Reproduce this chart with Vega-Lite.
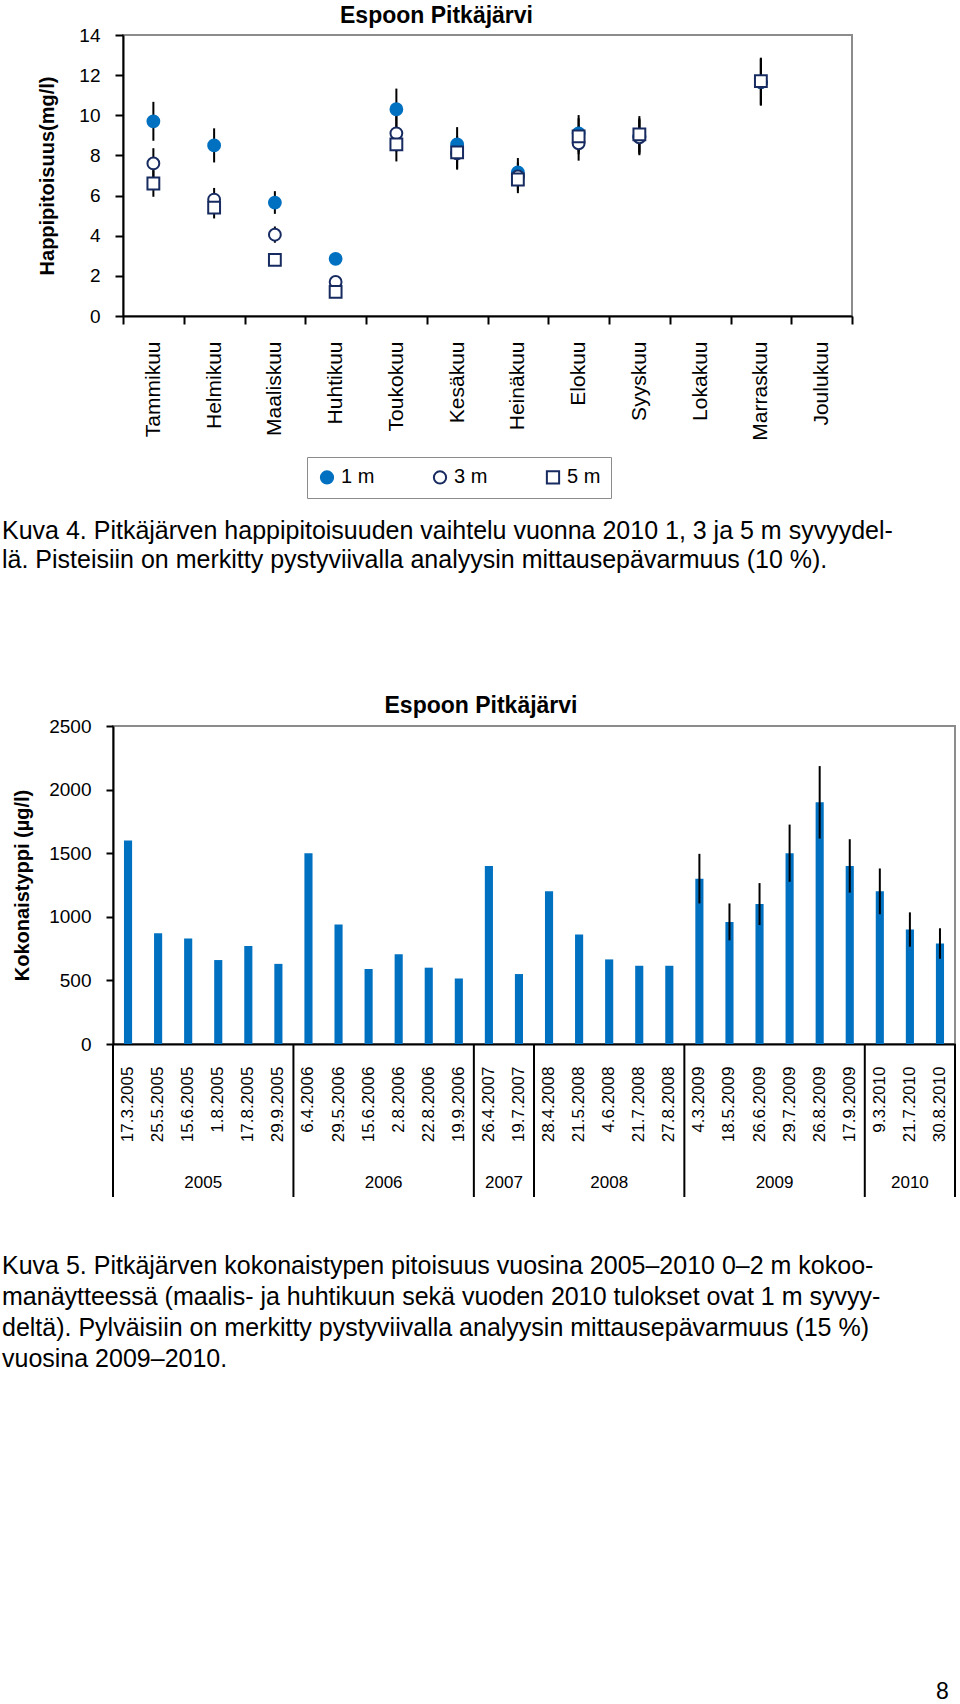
{
  "$schema": "https://vega.github.io/schema/vega-lite/v6.json",
  "background": "white",
  "padding": {"left": 2, "top": 4, "right": 0, "bottom": 0},
  "spacing": 0,
  "resolve": {"scale": {"shape": "independent", "fill": "independent", "stroke": "independent"}, "legend": {"shape": "independent", "fill": "independent", "stroke": "independent"}},
  "config": {
    "font": "Liberation Sans",
    "view": {"stroke": "#8c8c8c", "strokeWidth": 2},
    "axis": {"domainColor": "black", "domainWidth": 2, "tickColor": "black", "tickWidth": 2, "labelColor": "black", "titleColor": "black", "grid": false, "labelFont": "Liberation Sans", "titleFont": "Liberation Sans"},
    "title": {"font": "Liberation Sans", "color": "black"}
  },
  "title": {"text": "8", "orient": "bottom", "anchor": "start", "frame": "group", "fontSize": 23, "fontWeight": "normal", "offset": 301, "dx": 934},
  "vconcat": [
    {
      "spacing": 0,
      "resolve": {"scale": {"shape": "independent", "fill": "independent", "stroke": "independent"}, "legend": {"shape": "independent", "fill": "independent", "stroke": "independent"}},
      "hconcat": [
        {"width": 33, "height": 1, "view": {"stroke": null}, "data": {"values": []}, "mark": {"type": "point", "opacity": 0}},
        {
          "width": 729,
          "height": 281,
          "title": {"text": "Espoon Pitkäjärvi", "fontSize": 23, "fontWeight": "bold", "anchor": "middle", "frame": "group", "dx": -51, "offset": -2},
          "data": {"values": [
            {"month": "Tammikuu", "depth": "1 m", "value": 9.7, "lo": 8.73, "hi": 10.67},
            {"month": "Helmikuu", "depth": "1 m", "value": 8.5, "lo": 7.65, "hi": 9.35},
            {"month": "Maaliskuu", "depth": "1 m", "value": 5.65, "lo": 5.09, "hi": 6.22},
            {"month": "Huhtikuu", "depth": "1 m", "value": 2.85, "lo": 2.57, "hi": 3.14},
            {"month": "Toukokuu", "depth": "1 m", "value": 10.3, "lo": 9.27, "hi": 11.33},
            {"month": "Kesäkuu", "depth": "1 m", "value": 8.55, "lo": 7.7, "hi": 9.41},
            {"month": "Heinäkuu", "depth": "1 m", "value": 7.15, "lo": 6.44, "hi": 7.87},
            {"month": "Elokuu", "depth": "1 m", "value": 9.1, "lo": 8.19, "hi": 10.01},
            {"month": "Syyskuu", "depth": "1 m", "value": 8.95, "lo": 8.06, "hi": 9.85},
            {"month": "Marraskuu", "depth": "1 m", "value": 11.65, "lo": 10.49, "hi": 12.82},
            {"month": "Tammikuu", "depth": "3 m", "value": 7.6, "lo": 6.84, "hi": 8.36},
            {"month": "Helmikuu", "depth": "3 m", "value": 5.8, "lo": 5.22, "hi": 6.38},
            {"month": "Maaliskuu", "depth": "3 m", "value": 4.05, "lo": 3.65, "hi": 4.46},
            {"month": "Huhtikuu", "depth": "3 m", "value": 1.7, "lo": 1.53, "hi": 1.87},
            {"month": "Toukokuu", "depth": "3 m", "value": 9.1, "lo": 8.19, "hi": 10.01},
            {"month": "Kesäkuu", "depth": "3 m", "value": 8.1, "lo": 7.29, "hi": 8.91},
            {"month": "Heinäkuu", "depth": "3 m", "value": 6.95, "lo": 6.26, "hi": 7.65},
            {"month": "Elokuu", "depth": "3 m", "value": 8.6, "lo": 7.74, "hi": 9.46},
            {"month": "Syyskuu", "depth": "3 m", "value": 8.9, "lo": 8.01, "hi": 9.79},
            {"month": "Marraskuu", "depth": "3 m", "value": 11.65, "lo": 10.49, "hi": 12.82},
            {"month": "Tammikuu", "depth": "5 m", "value": 6.6, "lo": 5.94, "hi": 7.26},
            {"month": "Helmikuu", "depth": "5 m", "value": 5.4, "lo": 4.86, "hi": 5.94},
            {"month": "Maaliskuu", "depth": "5 m", "value": 2.8, "lo": 2.52, "hi": 3.08},
            {"month": "Huhtikuu", "depth": "5 m", "value": 1.2, "lo": 1.08, "hi": 1.32},
            {"month": "Toukokuu", "depth": "5 m", "value": 8.55, "lo": 7.7, "hi": 9.41},
            {"month": "Kesäkuu", "depth": "5 m", "value": 8.15, "lo": 7.34, "hi": 8.97},
            {"month": "Heinäkuu", "depth": "5 m", "value": 6.8, "lo": 6.12, "hi": 7.48},
            {"month": "Elokuu", "depth": "5 m", "value": 8.95, "lo": 8.06, "hi": 9.85},
            {"month": "Syyskuu", "depth": "5 m", "value": 9.05, "lo": 8.15, "hi": 9.96},
            {"month": "Marraskuu", "depth": "5 m", "value": 11.7, "lo": 10.53, "hi": 12.87}
          ]},
          "encoding": {
            "x": {"field": "month", "type": "nominal",
              "scale": {"domain": ["Tammikuu", "Helmikuu", "Maaliskuu", "Huhtikuu", "Toukokuu", "Kesäkuu", "Heinäkuu", "Elokuu", "Syyskuu", "Lokakuu", "Marraskuu", "Joulukuu"], "paddingInner": 0, "paddingOuter": 0},
              "axis": {"title": null, "labelAngle": -90, "labelFontSize": 21, "labelPadding": 17, "tickSize": 8, "tickBand": "extent"}}
          },
          "layer": [
            {
              "mark": {"type": "rule", "color": "black", "strokeWidth": 2},
              "encoding": {
                "y": {"field": "lo", "type": "quantitative", "scale": {"domain": [0, 14], "nice": false},
                  "axis": {"title": "Happipitoisuus(mg/l)", "titleFontSize": 20, "titleFontWeight": "bold", "titleX": -66, "titleY": 140.5, "titleAngle": -90, "titleBaseline": "bottom", "titleAlign": "center", "values": [0, 2, 4, 6, 8, 10, 12, 14], "labelFontSize": 19, "labelPadding": 15, "tickSize": 8}},
                "y2": {"field": "hi"}
              }
            },
            {
              "mark": {"type": "point", "opacity": 1, "strokeWidth": 2, "size": 140},
              "encoding": {
                "y": {"field": "value", "type": "quantitative",
                  "axis": {"title": "Happipitoisuus(mg/l)", "titleFontSize": 20, "titleFontWeight": "bold", "titleX": -66, "titleY": 140.5, "titleAngle": -90, "titleBaseline": "bottom", "titleAlign": "center", "values": [0, 2, 4, 6, 8, 10, 12, 14], "labelFontSize": 19, "labelPadding": 15, "tickSize": 8}},
                "shape": {"field": "depth", "type": "nominal", "scale": {"domain": ["1 m", "3 m", "5 m"], "range": ["circle", "circle", "square"]},
                  "legend": {"title": null, "orient": "none", "legendX": 184, "legendY": 422, "direction": "horizontal", "strokeColor": "#8c8c8c", "padding": 10, "symbolSize": 150, "symbolStrokeWidth": 2, "labelFontSize": 20, "labelOffset": 4, "columnPadding": 54, "labelColor": "black"}},
                "fill": {"field": "depth", "type": "nominal", "scale": {"domain": ["1 m", "3 m", "5 m"], "range": ["#0070C0", "white", "white"]},
                  "legend": {"title": null, "orient": "none", "legendX": 184, "legendY": 422, "direction": "horizontal", "strokeColor": "#8c8c8c", "padding": 10, "symbolSize": 150, "symbolStrokeWidth": 2, "labelFontSize": 20, "labelOffset": 4, "columnPadding": 54, "labelColor": "black"}},
                "stroke": {"field": "depth", "type": "nominal", "scale": {"domain": ["1 m", "3 m", "5 m"], "range": ["#0070C0", "#172b61", "#172b61"]},
                  "legend": {"title": null, "orient": "none", "legendX": 184, "legendY": 422, "direction": "horizontal", "strokeColor": "#8c8c8c", "padding": 10, "symbolSize": 150, "symbolStrokeWidth": 2, "labelFontSize": 20, "labelOffset": 4, "columnPadding": 54, "labelColor": "black"}}
              }
            }
          ]
        }
      ]
    },
    {
      "width": 950,
      "height": 194,
      "view": {"stroke": null},
      "data": {"values": [
        {"line": 1, "text": "Kuva 4. Pitkäjärven happipitoisuuden vaihtelu vuonna 2010 1, 3 ja 5 m syvyydel-"},
        {"line": 2, "text": "lä. Pisteisiin on merkitty pystyviivalla analyysin mittausepävarmuus (10 %)."}
      ]},
      "mark": {"type": "text", "align": "left", "baseline": "middle", "fontSize": 25, "color": "black"},
      "encoding": {
        "x": {"datum": 0, "type": "quantitative", "scale": {"domain": [0, 1]}, "axis": null},
        "y": {"field": "line", "type": "quantitative", "scale": {"domain": [-0.07, 6.62], "reverse": true, "nice": false, "zero": false}, "axis": null},
        "text": {"field": "text"}
      }
    },
    {
      "spacing": 0,
      "hconcat": [
        {"width": 9, "height": 1, "view": {"stroke": null}, "data": {"values": []}, "mark": {"type": "point", "opacity": 0}},
        {
          "width": 842,
          "height": 318,
          "title": {"text": "Espoon Pitkäjärvi", "fontSize": 23, "fontWeight": "bold", "anchor": "middle", "frame": "group", "dx": -53, "offset": -1},
          "data": {"values": [
            {"date": "17.3.2005", "year": "2005", "value": 1600},
            {"date": "25.5.2005", "year": "2005", "value": 870},
            {"date": "15.6.2005", "year": "2005", "value": 830},
            {"date": "1.8.2005", "year": "2005", "value": 660},
            {"date": "17.8.2005", "year": "2005", "value": 770},
            {"date": "29.9.2005", "year": "2005", "value": 630},
            {"date": "6.4.2006", "year": "2006", "value": 1500},
            {"date": "29.5.2006", "year": "2006", "value": 940},
            {"date": "15.6.2006", "year": "2006", "value": 590},
            {"date": "2.8.2006", "year": "2006", "value": 705},
            {"date": "22.8.2006", "year": "2006", "value": 600},
            {"date": "19.9.2006", "year": "2006", "value": 515},
            {"date": "26.4.2007", "year": "2007", "value": 1400},
            {"date": "19.7.2007", "year": "2007", "value": 550},
            {"date": "28.4.2008", "year": "2008", "value": 1200},
            {"date": "21.5.2008", "year": "2008", "value": 860},
            {"date": "4.6.2008", "year": "2008", "value": 665},
            {"date": "21.7.2008", "year": "2008", "value": 615},
            {"date": "27.8.2008", "year": "2008", "value": 615},
            {"date": "4.3.2009", "year": "2009", "value": 1300, "lo": 1105, "hi": 1495},
            {"date": "18.5.2009", "year": "2009", "value": 960, "lo": 815, "hi": 1105},
            {"date": "26.6.2009", "year": "2009", "value": 1100, "lo": 935, "hi": 1265},
            {"date": "29.7.2009", "year": "2009", "value": 1500, "lo": 1275, "hi": 1725},
            {"date": "26.8.2009", "year": "2009", "value": 1900, "lo": 1615, "hi": 2185},
            {"date": "17.9.2009", "year": "2009", "value": 1400, "lo": 1190, "hi": 1610},
            {"date": "9.3.2010", "year": "2010", "value": 1200, "lo": 1020, "hi": 1380},
            {"date": "21.7.2010", "year": "2010", "value": 900, "lo": 765, "hi": 1035},
            {"date": "30.8.2010", "year": "2010", "value": 790, "lo": 670, "hi": 910}
          ]},
          "layer": [
            {
              "mark": {"type": "bar", "color": "#0070C0", "width": {"band": 0.27}},
              "encoding": {
                "x": {"field": "date", "type": "nominal",
                  "scale": {"domain": ["17.3.2005", "25.5.2005", "15.6.2005", "1.8.2005", "17.8.2005", "29.9.2005", "6.4.2006", "29.5.2006", "15.6.2006", "2.8.2006", "22.8.2006", "19.9.2006", "26.4.2007", "19.7.2007", "28.4.2008", "21.5.2008", "4.6.2008", "21.7.2008", "27.8.2008", "4.3.2009", "18.5.2009", "26.6.2009", "29.7.2009", "26.8.2009", "17.9.2009", "9.3.2010", "21.7.2010", "30.8.2010"], "paddingInner": 0, "paddingOuter": 0},
                  "axis": {"title": null, "labelAngle": -90, "labelFontSize": 17, "labelPadding": 22, "ticks": false, "tickSize": 0}},
                "y": {"field": "value", "type": "quantitative", "scale": {"domain": [0, 2500], "nice": false},
                  "axis": {"title": "Kokonaistyppi (µg/l)", "titleFontSize": 20, "titleFontWeight": "bold", "titleX": -81, "titleY": 159, "titleAngle": -90, "titleBaseline": "bottom", "titleAlign": "center", "values": [0, 500, 1000, 1500, 2000, 2500], "format": "d", "labelFontSize": 19, "labelPadding": 15, "tickSize": 7}}
              }
            },
            {
              "transform": [{"filter": "isValid(datum.lo)"}],
              "mark": {"type": "rule", "color": "black", "strokeWidth": 2},
              "encoding": {
                "x": {"field": "date", "type": "nominal", "axis": {"title": null, "labelAngle": -90, "labelFontSize": 17, "labelPadding": 22, "ticks": false, "tickSize": 0}},
                "y": {"field": "lo", "type": "quantitative"},
                "y2": {"field": "hi"}
              }
            },
            {
              "data": {"values": [{"date": "17.3.2005"}, {"date": "6.4.2006"}, {"date": "26.4.2007"}, {"date": "28.4.2008"}, {"date": "4.3.2009"}, {"date": "9.3.2010"}]},
              "mark": {"type": "rule", "color": "black", "strokeWidth": 2},
              "encoding": {
                "x": {"field": "date", "type": "nominal", "bandPosition": 0, "axis": {"title": null, "labelAngle": -90, "labelFontSize": 17, "labelPadding": 22, "ticks": false, "tickSize": 0}},
                "y": {"datum": 0},
                "y2": {"datum": -1203}
              }
            },
            {
              "data": {"values": [{"date": "30.8.2010"}]},
              "mark": {"type": "rule", "color": "black", "strokeWidth": 2},
              "encoding": {
                "x": {"field": "date", "type": "nominal", "bandPosition": 1, "axis": {"title": null, "labelAngle": -90, "labelFontSize": 17, "labelPadding": 22, "ticks": false, "tickSize": 0}},
                "y": {"datum": 0},
                "y2": {"datum": -1203}
              }
            },
            {
              "data": {"values": [{"date": "1.8.2005", "year": "2005"}, {"date": "2.8.2006", "year": "2006"}, {"date": "19.7.2007", "year": "2007"}, {"date": "29.7.2009", "year": "2009"}]},
              "mark": {"type": "text", "fontSize": 17, "baseline": "middle", "align": "center", "color": "black"},
              "encoding": {
                "x": {"field": "date", "type": "nominal", "bandPosition": 0, "axis": {"title": null, "labelAngle": -90, "labelFontSize": 17, "labelPadding": 22, "ticks": false, "tickSize": 0}},
                "y": {"datum": -1090},
                "text": {"field": "year"}
              }
            },
            {
              "data": {"values": [{"date": "4.6.2008", "year": "2008"}, {"date": "21.7.2010", "year": "2010"}]},
              "mark": {"type": "text", "fontSize": 17, "baseline": "middle", "align": "center", "color": "black"},
              "encoding": {
                "x": {"field": "date", "type": "nominal", "bandPosition": 0.5, "axis": {"title": null, "labelAngle": -90, "labelFontSize": 17, "labelPadding": 22, "ticks": false, "tickSize": 0}},
                "y": {"datum": -1090},
                "text": {"field": "year"}
              }
            }
          ]
        }
      ]
    },
    {
      "width": 950,
      "height": 180,
      "view": {"stroke": null},
      "data": {"values": [
        {"line": 1, "text": "Kuva 5. Pitkäjärven kokonaistypen pitoisuus vuosina 2005–2010 0–2 m kokoo-"},
        {"line": 2, "text": "manäytteessä (maalis- ja huhtikuun sekä vuoden 2010 tulokset ovat 1 m syvyy-"},
        {"line": 3, "text": "deltä). Pylväisiin on merkitty pystyviivalla analyysin mittausepävarmuus (15 %)"},
        {"line": 4, "text": "vuosina 2009–2010."}
      ]},
      "mark": {"type": "text", "align": "left", "baseline": "middle", "fontSize": 25, "color": "black"},
      "encoding": {
        "x": {"datum": 0, "type": "quantitative", "scale": {"domain": [0, 1]}, "axis": null},
        "y": {"field": "line", "type": "quantitative", "scale": {"domain": [-1.13, 4.68], "reverse": true, "nice": false, "zero": false}, "axis": null},
        "text": {"field": "text"}
      }
    }
  ]
}
